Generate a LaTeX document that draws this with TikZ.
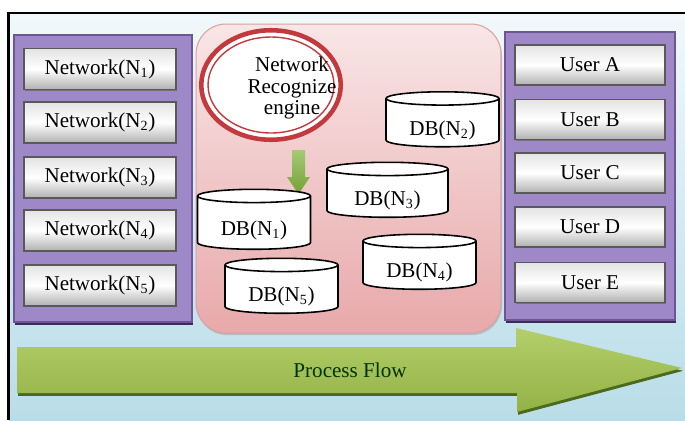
\documentclass[tikz,border=0pt]{standalone}
\usepackage{fontspec}
\setmainfont{Liberation Serif}
\usepackage{xcolor}
\usetikzlibrary{shapes.geometric, shadows, positioning}

\definecolor{backtop}{HTML}{F1F8FA}
\definecolor{backsky}{HTML}{B9DDE8}
\definecolor{panelfill}{HTML}{9F88C8}
\definecolor{panelline}{HTML}{6F5596}
\definecolor{panelshade}{HTML}{3E2A58}
\definecolor{pinktop}{HTML}{F9E6E6}
\definecolor{pinkbottom}{HTML}{E8A9AB}
\definecolor{pinkline}{HTML}{D9A2A4}
\definecolor{ringred}{HTML}{C23A3E}
\definecolor{flowlight}{HTML}{B4CF6A}
\definecolor{flowdark}{HTML}{92B246}
\definecolor{flowshade}{HTML}{4C6A1B}
\definecolor{downgreen}{HTML}{7FB33A}

\newcommand{\dblabel}[1]{\raisebox{-4pt}[\height][\depth]{DB(N\textsubscript{#1})}}

\begin{document}
\begin{tikzpicture}[x=0.02cm, y=-0.02cm, font=\fontsize{12}{12.4}\selectfont,
    panel/.style={draw=panelline, line width=1.2pt, fill=panelfill, inner sep=0,
        drop shadow={shadow xshift=0.8pt, shadow yshift=-1.8pt, fill=panelshade, opacity=1}},
    btn/.style={draw=black!65, line width=0.6pt, inner sep=0, top color=gray!22, bottom color=gray!62,
        middle color=white, drop shadow={shadow xshift=0.5pt, shadow yshift=-0.8pt, fill=black!55, opacity=1}},
    netbtn/.style={btn, minimum width=3.04cm, minimum height=0.82cm},
    userbtn/.style={btn, minimum width=3cm, minimum height=0.8cm},
    db/.style={cylinder, shape border rotate=90, draw, line width=0.9pt, fill=white, aspect=0.2,
        minimum width=2.26cm, minimum height=1.1cm, inner sep=0}]
\useasboundingbox (0,0) rectangle (685,420);
\shade[top color=backtop, bottom color=backsky] (9,14) rectangle (685,420);
\draw[line width=1.6pt] (8.5,420) -- (8.5,13) -- (685,13);

% networks
\node[panel, minimum width=3.56cm, minimum height=5.74cm] (netpanel) at (103,178.5) {};
\foreach \i/\y in {1/69, 2/122.5, 3/177.5, 4/230.5, 5/285.5}
    \node[netbtn] (net\i) at (100,\y) {Network(N\textsubscript{\i})};

% users
\node[panel, minimum width=3.4cm, minimum height=5.76cm] (userpanel) at (590,176) {};
\foreach \u/\y in {A/65, B/119.5, C/173, D/227, E/282.5}
    \node[userbtn] (user\u) at (590,\y) {User \u};

% engine and databases
\node[draw=pinkline, line width=0.6pt, rounded corners=17pt, top color=pinktop, bottom color=pinkbottom,
    minimum width=6.1cm, minimum height=6.18cm,
    drop shadow={shadow xshift=0.6pt, shadow yshift=-1.2pt, fill=black!35, opacity=0.6}] (enginebox) at (348.5,178.5) {};
\node[ellipse, draw=ringred, line width=2.6pt, fill=white, minimum width=2.79cm, minimum height=2.19cm] (engine) at (271,85) {};
\draw[ringred, line width=0.8pt] (engine.center) ellipse [x radius=1.26cm, y radius=0.96cm];
\node[align=center] (enginetext) at (292,88) {Network\\Recognize\\engine};
\shade[top color=downgreen!70!white, bottom color=downgreen!90!black]
    (292,150) -- (305,150) -- (305,177) -- (310,177) -- (298.5,194) -- (287,177) -- (292,177) -- cycle;

\node[db] (db2) at (442.5,123) {\dblabel{2}};
\node[db, minimum width=2.42cm] (db3) at (387.5,193.5) {\dblabel{3}};
\node[db, minimum height=1.2cm] (db1) at (254,223) {\dblabel{1}};
\node[db] (db4) at (419.5,265.5) {\dblabel{4}};
\node[db] (db5) at (281.5,289.5) {\dblabel{5}};

% flow
\path[top color=flowlight, bottom color=flowdark,
    drop shadow={shadow xshift=0.6pt, shadow yshift=-1.6pt, fill=flowshade, opacity=1}]
    (17,347) -- (516,347) -- (516,328) -- (682,368) -- (517,412) -- (517,393) -- (17,393) -- cycle;
\node[text=black!80!green] (flow) at (350,370) {Process Flow};
\end{tikzpicture}
\end{document}
